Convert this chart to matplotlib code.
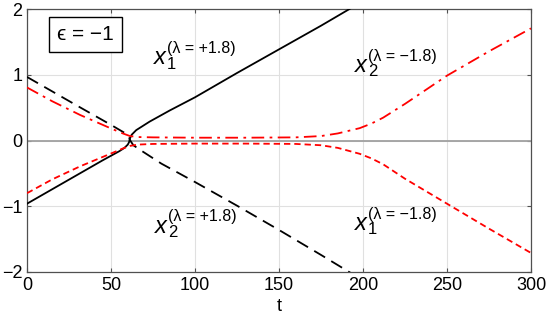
import matplotlib
matplotlib.use("Agg")
import matplotlib.pyplot as plt
from matplotlib.transforms import offset_copy

plt.rcParams['font.family'] = ['Liberation Sans', 'DejaVu Sans']

# ---- data ----
t_black_solid = [0, 15, 30, 45, 55, 58, 60, 60.8, 61.2, 62.3, 65, 73, 85, 100, 125, 150, 175, 195]
v_black_solid = [-0.96, -0.74, -0.52, -0.30, -0.16, -0.11, -0.06, -0.02, 0.03, 0.09, 0.16, 0.29, 0.46, 0.66, 1.03, 1.39, 1.75, 2.05]

t_black_dash = [0, 30, 50, 58, 60.3, 61.5, 63.3, 67.3, 80, 100, 125, 150, 175, 195]
v_black_dash = [0.97, 0.53, 0.24, 0.12, 0.08, 0.0, -0.07, -0.14, -0.35, -0.63, -0.99, -1.36, -1.74, -2.05]

t_red = [0, 15, 31.7, 49.6, 57, 61.3, 66, 75, 100, 130, 160, 175, 185, 198, 205, 212, 225, 250, 275, 300]
v_red_dashdot = [0.81, 0.60, 0.39, 0.19, 0.11, 0.07, 0.055, 0.05, 0.045, 0.045, 0.05, 0.07, 0.11, 0.19, 0.26, 0.35, 0.56, 0.99, 1.36, 1.71]
v_red_dash = [-0.80, -0.59, -0.39, -0.20, -0.12, -0.08, -0.06, -0.05, -0.045, -0.045, -0.05, -0.07, -0.11, -0.20, -0.27, -0.36, -0.58, -0.96, -1.34, -1.71]

x_ticks = [0, 50, 100, 150, 200, 250, 300]
y_ticks = [-2, -1, 0, 1, 2]

# labels: (t, y, subscript, superscript)
labels = [
    (75.6, 1.16, '1', '(λ = +1.8)'),
    (195.2, 1.05, '2', '(λ = −1.8)'),
    (76.2, -1.40, '2', '(λ = +1.8)'),
    (195.2, -1.36, '1', '(λ = −1.8)'),
]

fig = plt.figure(figsize=(5.48, 3.20), dpi=100)
ax = fig.add_axes([27/548, 1-272/320, (531-27)/548, (272-9.3)/320])

ax.set_xlim(0, 300)
ax.set_ylim(-2, 2)
ax.set_xticks(x_ticks)
ax.set_yticks(y_ticks)
ax.grid(True, color='#e0e0e0', lw=0.8)
ax.set_axisbelow(True)
ax.axhline(0, color='#a0a0a0', lw=1.3, zorder=1)

lw = 1.3
ax.plot(t_black_solid, v_black_solid, color='black', lw=lw, zorder=3)
ax.plot(t_black_dash, v_black_dash, color='black', lw=lw, dashes=(7, 4), zorder=3)
ax.plot(t_red, v_red_dashdot, color='red', lw=lw, dashes=(7, 3, 1.5, 3), zorder=3)
ax.plot(t_red, v_red_dash, color='red', lw=lw, dashes=(3.5, 2.2), zorder=3)

for s in ax.spines.values():
    s.set_color('#505050')
    s.set_linewidth(0.9)
ax.tick_params(direction='in', length=3, color='#505050', labelsize=13,
               top=True, right=True, pad=3.5)
ax.set_xlabel('t', fontsize=13, labelpad=3)

for (tx, ty, sub, sup) in labels:
    ax.text(tx, ty, 'x', fontsize=17, style='italic', ha='left', va='baseline', zorder=5)
    tr_sub = offset_copy(ax.transData, fig=fig, x=9.3, y=-3.0, units='points')
    ax.text(tx, ty, sub, fontsize=12, transform=tr_sub, ha='left', va='baseline', zorder=5)
    tr_sup = offset_copy(ax.transData, fig=fig, x=9.7, y=8.0, units='points')
    ax.text(tx, ty, sup, fontsize=11.5, transform=tr_sup, ha='left', va='baseline', zorder=5)

# epsilon box
fig.text(85.3/548, 1-34.5/320, 'ϵ = −1', fontsize=15, ha='center', va='center',
         family=['Liberation Sans', 'DejaVu Sans'],
         bbox=dict(boxstyle='square,pad=0.4', fc='white', ec='black', lw=1.0))

fig.savefig('out.png', dpi=100)
